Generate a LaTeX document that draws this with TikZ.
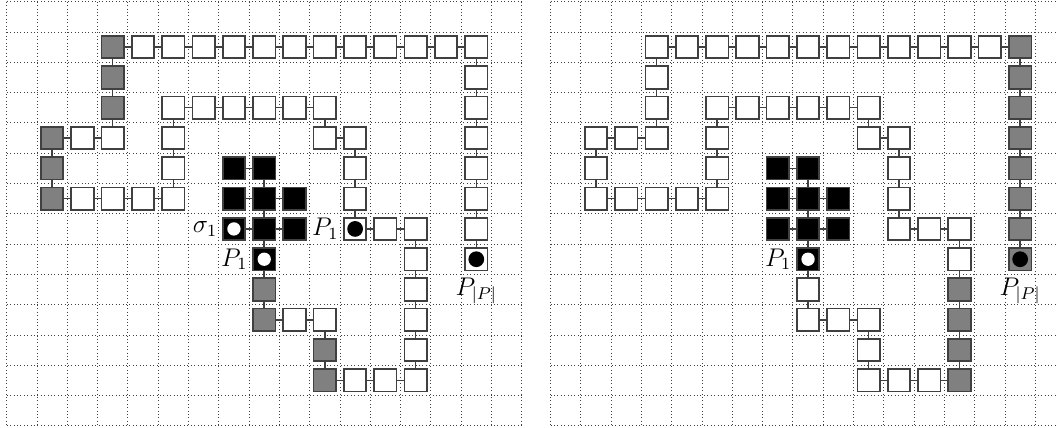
\documentclass[tikz,border=0pt]{standalone}
\usepackage{amsmath}
\usetikzlibrary{positioning}

% cells of the snake, in order, after the black cell 8/8
\newcommand{\snakecells}{8/9,8/10,9/10,10/10,10/11,10/12,11/12,12/12,13/12,13/11,13/10,13/9,13/8,13/7,12/7,11/7,11/6,11/5,11/4,10/4,10/3,9/3,8/3,7/3,6/3,5/3,5/4,5/5,5/6,4/6,3/6,2/6,1/6,1/5,1/4,2/4,3/4,3/3,3/2,3/1,4/1,5/1,6/1,7/1,8/1,9/1,10/1,11/1,12/1,13/1,14/1,15/1,15/2,15/3,15/4,15/5,15/6,15/7,15/8}
% the black polyomino
\newcommand{\blackcells}{7/5,8/5,7/6,8/6,9/6,7/7,8/7,9/7,8/8}
\newcommand{\blacklinks}{7-5/8-5,8-5/8-6,7-6/8-6,8-6/9-6,8-6/8-7,7-7/8-7,8-7/9-7,8-7/8-8}

\begin{document}
\begin{tikzpicture}[x=0.5cm,y=-0.5cm,font=\large]
\tikzset{gridline/.style={dash pattern=on 0.4pt off 1.2pt,line width=0.4pt,black!75}}
\tikzset{cell/.style={draw=black!75,line width=0.8pt,minimum size=0.37cm,inner sep=0pt,fill=white}}
\tikzset{greycell/.style={cell,fill=black!50}}
\tikzset{blackcell/.style={cell,fill=black}}
\tikzset{link/.style={draw=black!75,line width=0.7pt}}
\tikzset{wdot/.style={circle,fill=white,minimum size=0.22cm,inner sep=0pt}}
\tikzset{bdot/.style={circle,fill=black,minimum size=0.26cm,inner sep=0pt}}
\tikzset{lbl/.style={inner sep=1pt}}
\clip (-0.221,-0.056) rectangle (34.70,14.07);

% left panel
\begin{scope}[name prefix=L-]
\foreach \i in {0,...,17} \draw[gridline] (\i,0) -- (\i,14);
\foreach \j in {0,...,14} \draw[gridline] (0,\j) -- (17,\j);
\foreach \c/\r in \snakecells \node[cell] (\c-\r) at ({\c+0.5},{\r+0.5}) {};
\foreach \c/\r in {8/9,8/10,10/11,10/12,1/4,1/5,1/6,3/1,3/2,3/3}
  \node[greycell] (\c-\r) at ({\c+0.5},{\r+0.5}) {};
\foreach \c/\r in \blackcells \node[blackcell] (\c-\r) at ({\c+0.5},{\r+0.5}) {};
\node[wdot] (dot-7-7) at (7-7) {};
\node[wdot] (dot-8-8) at (8-8) {};
\node[bdot] (dot-11-7) at (11-7) {};
\node[bdot] (dot-15-8) at (15-8) {};
\foreach \c/\r [remember=\c as \pc (initially 8), remember=\r as \pr (initially 8)] in \snakecells
  \draw[link] (\pc-\pr) -- (\c-\r);
\foreach \a/\b in \blacklinks \draw[link] (\a) -- (\b);
\node[lbl,left=1pt of 7-7] (sigma) {$\sigma_1$};
\node[lbl,left=1pt of 8-8] (pone) {$P_1$};
\node[lbl,left=1pt of 11-7] (ponebis) {$P_1$};
\node[lbl,below=2pt of 15-8] (plast) {$P_{|P|}$};
\end{scope}

% right panel
\begin{scope}[shift={(17.95,0)},name prefix=R-]
\foreach \i in {0,...,17} \draw[gridline] (\i,0) -- (\i,14);
\foreach \j in {0,...,14} \draw[gridline] (0,\j) -- (17,\j);
\foreach \c/\r in \snakecells \node[cell] (\c-\r) at ({\c+0.5},{\r+0.5}) {};
\foreach \c/\r in {13/9,13/10,13/11,13/12,15/1,15/2,15/3,15/4,15/5,15/6,15/7,15/8}
  \node[greycell] (\c-\r) at ({\c+0.5},{\r+0.5}) {};
\foreach \c/\r in \blackcells \node[blackcell] (\c-\r) at ({\c+0.5},{\r+0.5}) {};
\node[wdot] (dot-8-8) at (8-8) {};
\node[bdot] (dot-15-8) at (15-8) {};
\foreach \c/\r [remember=\c as \pc (initially 8), remember=\r as \pr (initially 8)] in \snakecells
  \draw[link] (\pc-\pr) -- (\c-\r);
\foreach \a/\b in \blacklinks \draw[link] (\a) -- (\b);
\node[lbl,left=1pt of 8-8] (pone) {$P_1$};
\node[lbl,below=2pt of 15-8] (plast) {$P_{|P|}$};
\end{scope}
\end{tikzpicture}
\end{document}
